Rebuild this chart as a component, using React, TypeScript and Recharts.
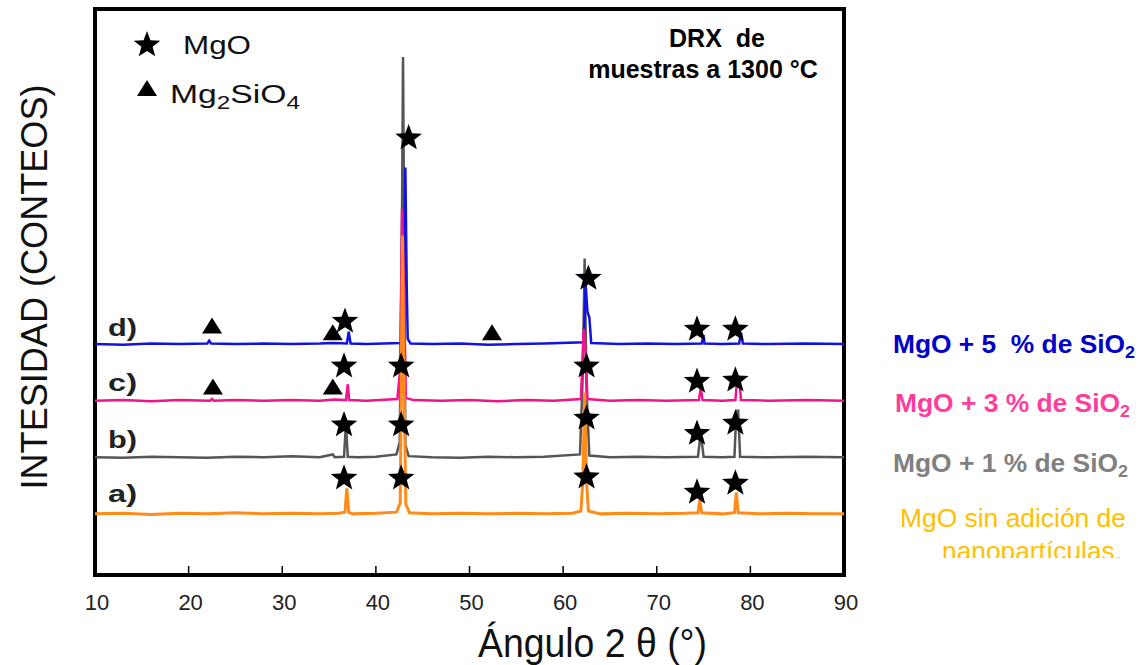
import React from "react";
import { ComposedChart, Line, Scatter, XAxis, YAxis, ReferenceArea } from "recharts";

const FONT = '"Liberation Sans", Arial, Helvetica, sans-serif';

const angleTicks = [10, 20, 30, 40, 50, 60, 70, 80, 90];

// vertical offset of each pattern in the stack (counts)
const offsets = { a: 105, b: 205, c: 305, d: 405 };

// [2θ, counts above own baseline]
const patternA = [
  [10, 3], [13, 4], [16, 2], [19, 4], [22, 3], [25, 5], [28, 3], [31, 4], [34, 3], [36.0, 4],
  [36.7, 6], [36.9, 48], [37.1, 6], [37.5, 3], [40, 4], [42.2, 6], [42.6, 22], [42.75, 300],
  [42.85, 495], [42.95, 300], [43.2, 20], [43.6, 5], [46, 3], [49, 4], [52, 3], [55, 4], [58, 3],
  [61, 4], [61.9, 8], [62.1, 60], [62.3, 218], [62.5, 60], [62.7, 8], [64, 3], [67, 4], [70, 3],
  [73, 4], [74.4, 5], [74.6, 28], [74.8, 5], [77, 3], [78.3, 5], [78.5, 41], [78.7, 5], [81, 3],
  [84, 4], [87, 3], [90, 3],
];

const patternB = [
  [10, 3], [13, 2], [16, 4], [19, 3], [22, 2], [25, 4], [28, 3], [31, 5], [34, 3], [35.4, 8],
  [35.6, 3], [36.6, 4], [36.8, 63], [37.0, 4], [38, 3], [40, 4], [42.2, 8], [42.55, 30],
  [42.8, 450], [42.9, 710], [43.0, 450], [43.15, 25], [43.5, 5], [46, 3], [49, 2], [52, 4],
  [55, 3], [58, 4], [61.8, 8], [62.1, 150], [62.3, 354], [62.5, 120], [62.8, 6], [65, 3],
  [68, 4], [71, 3], [74.4, 4], [74.6, 32], [74.8, 32], [75.0, 4], [77, 3], [78.3, 4],
  [78.5, 85], [78.7, 85], [78.9, 4], [82, 3], [86, 4], [90, 3],
];

const patternC = [
  [10, 3], [13, 4], [16, 2], [19, 4], [22.3, 3], [22.5, 6], [22.7, 3], [25, 4], [28, 3], [31, 4],
  [34, 3], [35.5, 5], [36.8, 4], [37.0, 32], [37.15, 4], [39, 3], [42.3, 6], [42.6, 60],
  [42.8, 342], [43.0, 200], [43.2, 8], [44, 4], [47, 3], [50, 4], [53, 2], [56, 4], [59, 3],
  [61.9, 6], [62.2, 130], [62.4, 90], [62.6, 6], [65, 3], [68, 4], [71, 3], [74.5, 4],
  [74.7, 25], [74.9, 4], [77, 3], [78.4, 4], [78.6, 44], [78.8, 44], [79.0, 4], [82, 3],
  [86, 4], [90, 3],
];

const patternD = [
  [10, 3], [13, 2], [16, 4], [19, 3], [22.0, 4], [22.2, 9], [22.4, 4], [25, 3], [28, 4], [31, 3],
  [34, 4], [35.4, 5], [36.9, 4], [37.1, 25], [37.3, 4], [39, 3], [42.6, 5], [42.95, 12],
  [43.05, 150], [43.15, 315], [43.3, 100], [43.4, 12], [43.7, 4], [46, 3], [49, 4], [52, 2],
  [55, 3], [58, 4], [62.2, 6], [62.4, 110], [62.6, 60], [62.8, 50], [63.0, 5], [66, 3], [69, 4],
  [72, 3], [74.8, 4], [75.0, 19], [75.1, 4], [77, 3], [78.8, 4], [79.0, 23], [79.2, 4], [82, 3],
  [86, 4], [90, 3],
];

// phase markers, [2θ, counts]
const mgoStars = [
  [43.5, 772], [36.7, 448], [62.7, 524], [74.3, 434], [78.4, 434],
  [36.6, 369], [42.7, 369], [62.5, 369], [74.3, 342], [78.4, 344],
  [36.6, 265], [42.7, 265], [62.5, 277], [74.3, 250], [78.4, 268],
  [36.6, 171], [42.7, 171], [62.5, 173], [74.3, 146], [78.4, 162],
];
const forsteriteTriangles = [
  [22.5, 441], [35.4, 429], [52.4, 429],
  [22.6, 333], [35.4, 333],
];

const toRows = (pts: number[][], off = 0) => pts.map(([x, y]) => ({ x, y: y + off }));

function starPath(cx: number, cy: number, R: number) {
  const r = R * 0.42;
  let d = "";
  for (let i = 0; i < 10; i++) {
    const rad = i % 2 === 0 ? R : r;
    const a = -Math.PI / 2 + (i * Math.PI) / 5;
    d += (i === 0 ? "M" : "L") + (cx + rad * Math.cos(a)).toFixed(2) + "," + (cy + rad * Math.sin(a)).toFixed(2);
  }
  return d + "Z";
}

const triPath = (cx: number, cy: number, w: number, h: number) =>
  `M${cx},${cy - h / 2}L${cx + w / 2},${cy + h / 2}L${cx - w / 2},${cy + h / 2}Z`;

const StarShape = (p: any) => <path d={starPath(p.cx, p.cy, 14)} fill="#000" />;
const TriShape = (p: any) => <path d={triPath(p.cx, p.cy, 20, 16)} fill="#000" />;

const AngleTick = (props: any) => {
  const { x, y, payload } = props;
  return (
    <g>
      <line x1={x} x2={x} y1={y} y2={y - 9} stroke="#000" strokeWidth={1.5} />
      <text x={x + 2} y={y + 35} textAnchor="middle" fontSize={22} fill="#222" fontFamily={FONT}>
        {payload.value}
      </text>
    </g>
  );
};

export default function App() {
  return (
    <div style={{ position: "absolute", left: 0, top: 0, width: 1147, height: 665, background: "#fff" }}>
      <ComposedChart width={1147} height={665} margin={{ top: 9, right: 303, bottom: 0, left: 95 }}>
        <XAxis
          type="number"
          dataKey="x"
          domain={[10, 90]}
          ticks={angleTicks}
          interval={0}
          allowDataOverflow
          axisLine={false}
          tickLine={false}
          tickSize={0}
          tickMargin={0}
          height={90}
          tick={<AngleTick />}
        />
        <YAxis type="number" domain={[0, 1000]} hide allowDataOverflow />
        <Line data={toRows(patternB, offsets.b)} dataKey="y" type="linear" stroke="#555555" strokeWidth={2.5} dot={false} isAnimationActive={false} />
        <Line data={toRows(patternD, offsets.d)} dataKey="y" type="linear" stroke="#1212e0" strokeWidth={2.5} dot={false} isAnimationActive={false} />
        <Line data={toRows(patternC, offsets.c)} dataKey="y" type="linear" stroke="#f0148c" strokeWidth={2.5} dot={false} isAnimationActive={false} />
        <Line data={toRows(patternA, offsets.a)} dataKey="y" type="linear" stroke="#ff8c1a" strokeWidth={3} dot={false} isAnimationActive={false} />
        <Scatter data={toRows(mgoStars)} dataKey="y" shape={StarShape} isAnimationActive={false} />
        <Scatter data={toRows(forsteriteTriangles)} dataKey="y" shape={TriShape} isAnimationActive={false} />
        <ReferenceArea x1={10} x2={90} y1={0} y2={1000} fill="none" fillOpacity={0} stroke="#000" strokeWidth={4} />
      </ComposedChart>

      <svg width={1147} height={665} style={{ position: "absolute", left: 0, top: 0, pointerEvents: "none", whiteSpace: "pre" }} fontFamily={FONT}>
        <defs>
          <clipPath id="legendClip">
            <rect x={850} y={300} width={297} height={258} />
          </clipPath>
        </defs>
        {/* phase key */}
        <path d={starPath(147, 45, 14)} fill="#000" />
        <text x={183} y={54} fontSize={25} fill="#111" textLength={68} lengthAdjust="spacingAndGlyphs">MgO</text>
        <path d={triPath(147, 88, 20, 16)} fill="#000" />
        <text x={170} y={103} fontSize={25} fill="#111" textLength={130} lengthAdjust="spacingAndGlyphs">
          Mg<tspan fontSize={18} dy={6}>2</tspan><tspan dy={-6}>SiO</tspan><tspan fontSize={18} dy={6}>4</tspan>
        </text>

        <text x={717} y={47} fontSize={25} fontWeight="bold" fill="#000" textAnchor="middle">{"DRX\u00a0 de"}</text>
        <text x={703} y={78} fontSize={25} fontWeight="bold" fill="#000" textAnchor="middle">muestras a 1300 °C</text>

        {[["d)", 336], ["c)", 391], ["b)", 448], ["a)", 502]].map(([t, y]) => (
          <text key={t as string} x={108} y={y as number} fontSize={23} fontWeight="bold" fill="#222" textLength={29} lengthAdjust="spacingAndGlyphs">{t}</text>
        ))}

        <g transform="translate(47,287) rotate(-90)">
          <text x={0} y={0} fontSize={36} fill="#111" textAnchor="middle" textLength={405} lengthAdjust="spacingAndGlyphs">INTESIDAD (CONTEOS)</text>
        </g>
        <text x={478} y={657} fontSize={40} fill="#111" textLength={229} lengthAdjust="spacingAndGlyphs">Ángulo 2 θ (°)</text>

        <g clipPath="url(#legendClip)">
          <text x={893} y={353} fontSize={25} fontWeight="bold" fill="#0000c8" textLength={242} lengthAdjust="spacingAndGlyphs">
            {"MgO + 5\u00a0 % de SiO"}<tspan fontSize={17} dy={5}>2</tspan>
          </text>
          <text x={895} y={412} fontSize={25} fontWeight="bold" fill="#ff3d9e" textLength={235} lengthAdjust="spacingAndGlyphs">
            MgO + 3 % de SiO<tspan fontSize={17} dy={5}>2</tspan>
          </text>
          <text x={893} y={472} fontSize={25} fontWeight="bold" fill="#808080" textLength={235} lengthAdjust="spacingAndGlyphs">
            MgO + 1 % de SiO<tspan fontSize={17} dy={5}>2</tspan>
          </text>
          <text x={900} y={527} fontSize={25} fill="#ffc000" textLength={226} lengthAdjust="spacingAndGlyphs">MgO sin adición de</text>
          <text x={942} y={560} fontSize={25} fill="#ffc000" textLength={180} lengthAdjust="spacingAndGlyphs">nanopartículas.</text>
        </g>
      </svg>
    </div>
  );
}
